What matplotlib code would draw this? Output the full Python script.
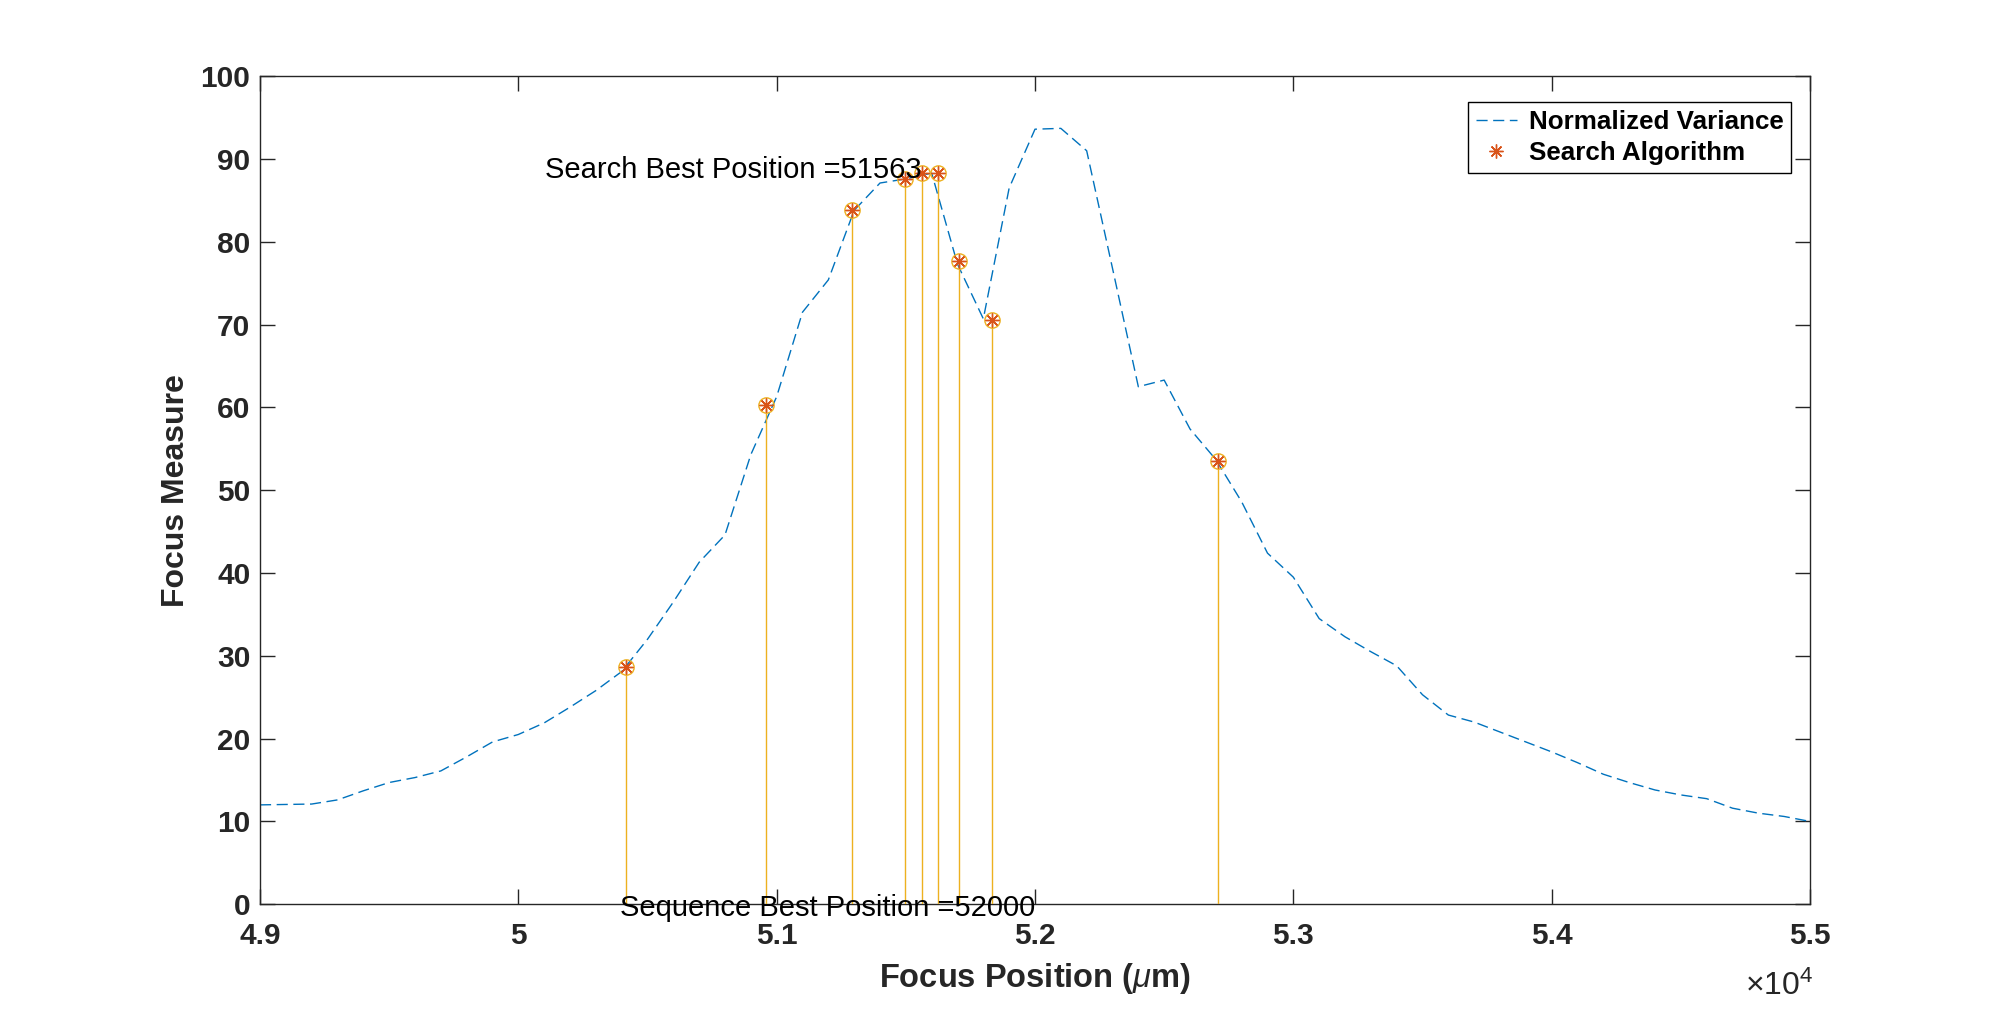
import matplotlib
matplotlib.use('Agg')
import matplotlib.pyplot as plt
from matplotlib.ticker import FuncFormatter, FixedLocator

plt.rcParams['font.family'] = ['Liberation Sans', 'DejaVu Sans']
plt.rcParams['mathtext.fontset'] = 'custom'
plt.rcParams['mathtext.rm'] = 'Liberation Sans'
plt.rcParams['mathtext.it'] = 'Liberation Sans:italic'
plt.rcParams['mathtext.bf'] = 'Liberation Sans:bold'

# ---- data ----
focus_positions = [49000, 49100, 49200, 49300, 49400, 49500, 49600, 49700, 49800, 49900,
                   50000, 50100, 50200, 50300, 50400, 50500, 50600, 50700, 50800, 50900,
                   51000, 51100, 51200, 51300, 51400, 51500, 51600, 51700, 51800, 51900,
                   52000, 52100, 52200, 52300, 52400, 52500, 52600, 52700, 52800, 52900,
                   53000, 53100, 53200, 53300, 53400, 53500, 53600, 53700, 53800, 53900,
                   54000, 54100, 54200, 54300, 54400, 54500, 54600, 54700, 54800, 54900,
                   55000]
normalized_variance = [12.0, 12.05, 12.1, 12.6, 13.7, 14.7, 15.3, 16.1, 17.8, 19.6,
                       20.5, 21.9, 23.8, 25.8, 28.1, 32.0, 36.5, 41.3, 44.6, 54.3,
                       61.3, 71.5, 75.4, 83.8, 87.1, 87.6, 88.3, 77.3, 70.7, 86.5,
                       93.6, 93.7, 91.0, 76.8, 62.5, 63.3, 57.4, 53.7, 48.6, 42.4,
                       39.5, 34.5, 32.3, 30.5, 28.8, 25.3, 22.85, 22.0, 20.8, 19.6,
                       18.4, 17.1, 15.7, 14.7, 13.8, 13.2, 12.75, 11.6, 11.0, 10.6,
                       10.0]
search_positions = [50416, 50957, 51292, 51498, 51563, 51626, 51705, 51833, 52708]
search_values = [28.6, 60.3, 83.9, 87.6, 88.3, 88.3, 77.7, 70.6, 53.5]

search_best = 51563
search_best_value = 88.3
sequence_best = 52000

x_ticks = [49000, 50000, 51000, 52000, 53000, 54000, 55000]
y_ticks = [0, 10, 20, 30, 40, 50, 60, 70, 80, 90, 100]

# ---- figure ----
fig = plt.figure(figsize=(20, 10.16), dpi=100)
ax = fig.add_axes([0.13, 0.11, 0.775, 0.815])

c_blue = '#0072BD'
c_orange = '#D95319'
c_yellow = '#EDB120'
c_axes = '#262626'

line_nv, = ax.plot(focus_positions, normalized_variance, color=c_blue, lw=1.0,
                   ls=(0, (8, 4)), label='Normalized Variance', zorder=2)
ax.vlines(search_positions, 0, search_values, colors=c_yellow, lw=1.0, zorder=3)
ax.plot(search_positions, search_values, ls='none', marker='o', ms=11,
        mfc='none', mec=c_yellow, mew=1.0, zorder=4)
stars, = ax.plot(search_positions, search_values, ls='none', marker=(8, 2, 0), ms=10,
                 color=c_orange, mew=1.0, label='Search Algorithm', zorder=5)

ax.annotate('Search Best Position =%d' % search_best, xy=(search_best, search_best_value),
            xytext=(0, 2.5), textcoords='offset points',
            ha='right', va='center', fontsize=21, color='black', zorder=10)
ax.annotate('Sequence Best Position =%d' % sequence_best, xy=(sequence_best, 0),
            xytext=(0, -3), textcoords='offset points',
            ha='right', va='center', fontsize=21, color='black', zorder=10,
            annotation_clip=False)

ax.set_xlim(49000, 55000)
ax.set_ylim(0, 100)
ax.xaxis.set_major_locator(FixedLocator(x_ticks))
ax.yaxis.set_major_locator(FixedLocator(y_ticks))
ax.xaxis.set_major_formatter(FuncFormatter(lambda v, p: '%g' % (v / 1e4)))
ax.yaxis.set_major_formatter(FuncFormatter(lambda v, p: '%d' % v))

ax.tick_params(axis='both', direction='in', length=11, width=1.0, top=True, right=True,
               labelsize=21.5, colors=c_axes)
ax.tick_params(axis='x', pad=13)
ax.tick_params(axis='y', pad=7)
for lbl in ax.get_xticklabels() + ax.get_yticklabels():
    lbl.set_fontweight('bold')
for sp in ax.spines.values():
    sp.set_linewidth(1.0)
    sp.set_color(c_axes)

ax.set_xlabel(r'Focus Position ($\mu$m)', fontsize=23.5, fontweight='bold', color=c_axes, labelpad=8)
ax.set_ylabel('Focus Measure', fontsize=23, fontweight='bold', color=c_axes, labelpad=7)

ax.text(1.002, -0.110, r'$\times$10$^{4}$', transform=ax.transAxes, ha='right',
        va='baseline', fontsize=23, color=c_axes)

leg = ax.legend(handles=[line_nv, stars], loc='upper right', bbox_to_anchor=(0.988, 0.969),
                borderaxespad=0, prop={'weight': 'bold', 'size': 18.7}, frameon=True,
                fancybox=False, framealpha=1, edgecolor='black', handlelength=1.6,
                handletextpad=0.45, borderpad=0.3, labelspacing=0.3)
leg.get_frame().set_linewidth(1.0)

fig.savefig('out.png', dpi=100, facecolor='white')
